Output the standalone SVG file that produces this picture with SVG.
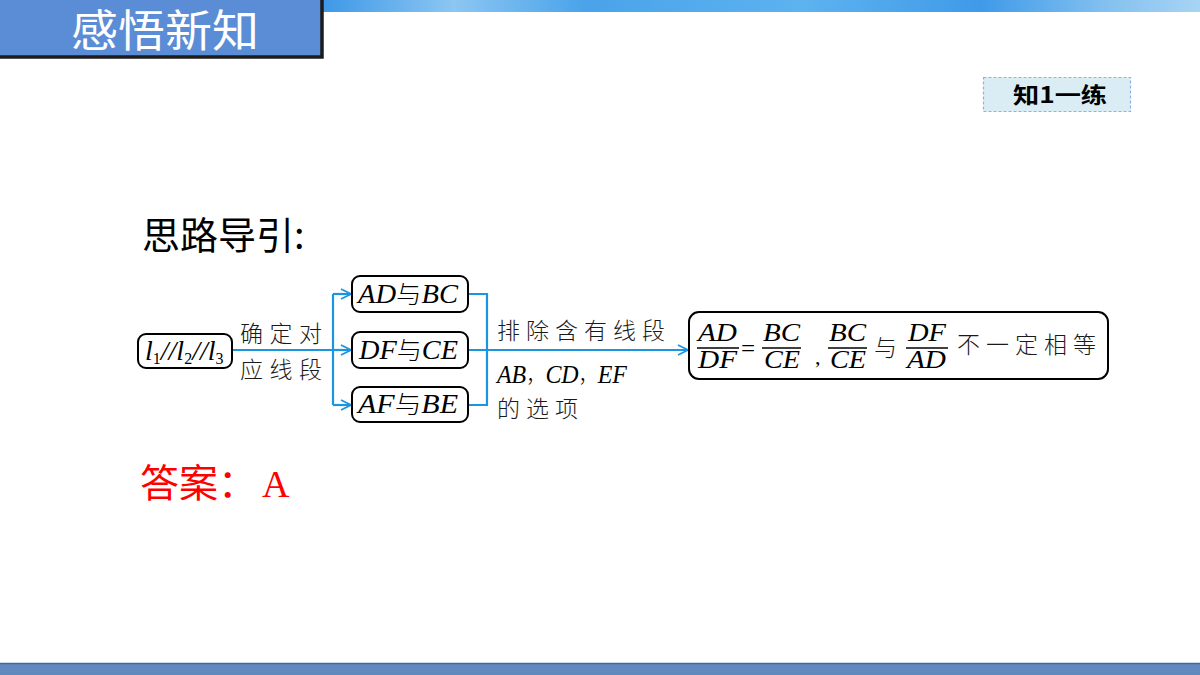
<svg xmlns="http://www.w3.org/2000/svg" width="1200" height="675" viewBox="0 0 1200 675">
<style>
.cjk{font-family:"Noto Sans CJK SC","Noto Sans",sans-serif;}
.lbl{font-family:"Noto Sans CJK SC",sans-serif;font-weight:300;font-size:23px;fill:#1a1a1a;}
.it{font-family:"Liberation Serif","Noto Sans CJK SC",serif;font-style:italic;fill:#000;}
.box{fill:#fff;stroke:#000;stroke-width:2;}
.conn{fill:none;stroke:#1b95e0;stroke-width:2.2;}
.frac{stroke:#000;stroke-width:1.6;}
</style>
<defs>
<linearGradient id="ban" x1="0" y1="0" x2="1" y2="0">
<stop offset="0" stop-color="#3d98e6"/>
<stop offset="0.15" stop-color="#8cc6f2"/>
<stop offset="0.3" stop-color="#4aa3ea"/>
<stop offset="0.55" stop-color="#5db2ef"/>
<stop offset="0.75" stop-color="#3f9ae8"/>
<stop offset="0.9" stop-color="#86c2f0"/>
<stop offset="1" stop-color="#a8d4f4"/>
</linearGradient>
<marker id="arr" viewBox="0 0 12 12" refX="11" refY="6" markerWidth="12" markerHeight="12" markerUnits="userSpaceOnUse" orient="auto">
<path d="M1,1 L11,6 L1,11" fill="none" stroke="#1b95e0" stroke-width="1.8"/>
</marker>
</defs>
<rect width="1200" height="675" fill="#fff"/>
<g id="banner">
<rect x="322" y="0" width="878" height="12" fill="url(#ban)"/>
</g>
<g id="title">
<rect x="-4" y="-4" width="326" height="61" fill="#5a8dd6" stroke="#1c1c1c" stroke-width="3.5"/>
<text x="71" y="47" class="cjk" font-size="44" fill="#fff" textLength="188" lengthAdjust="spacingAndGlyphs">感悟新知</text>
</g>
<g id="tag">
<rect x="983.5" y="77.5" width="147" height="34" fill="#daedf4" stroke="#8fb2e2" stroke-width="1.2" stroke-dasharray="3,2"/>
<text x="1013" y="103" class="cjk" font-size="22" font-weight="bold" fill="#000" textLength="94" lengthAdjust="spacingAndGlyphs">知1一练</text>
</g>
<g id="heading">
<text x="142" y="249" class="cjk" font-size="38" fill="#000">思路导引:</text>
</g>
<g id="connectors">
<path class="conn" d="M232,350 H333"/>
<path class="conn" d="M333,294 V405"/>
<path class="conn" d="M333,294 H351" marker-end="url(#arr)"/>
<path class="conn" d="M333,350 H351" marker-end="url(#arr)"/>
<path class="conn" d="M333,405 H351" marker-end="url(#arr)"/>
<path class="conn" d="M468,294 H487 V405 H468"/>
<path class="conn" d="M468,350 H688" marker-end="url(#arr)"/>
</g>
<g id="node-l">
<rect class="box" x="138" y="334" width="94" height="34" rx="8"/>
<text x="145" y="360" class="it" font-size="28">l<tspan font-size="16" font-style="normal" dy="4">1</tspan><tspan dy="-4">//l</tspan><tspan font-size="16" font-style="normal" dy="4">2</tspan><tspan dy="-4">//l</tspan><tspan font-size="16" font-style="normal" dy="4">3</tspan></text>
</g>
<g id="label-left">
<text x="240" y="342" class="lbl" textLength="82">确定对</text>
<text x="240" y="378" class="lbl" textLength="82">应线段</text>
</g>
<g id="node-adbc">
<rect class="box" x="352" y="276" width="116" height="36" rx="8"/>
<text x="358" y="303" class="it" font-size="27" textLength="100" lengthAdjust="spacingAndGlyphs">AD<tspan font-style="normal" font-family="Noto Sans CJK SC" font-weight="300" font-size="24">与</tspan>BC</text>
</g>
<g id="node-dfce">
<rect class="box" x="352" y="332" width="116" height="36" rx="8"/>
<text x="359" y="359" class="it" font-size="27" textLength="99" lengthAdjust="spacingAndGlyphs">DF<tspan font-style="normal" font-family="Noto Sans CJK SC" font-weight="300" font-size="24">与</tspan>CE</text>
</g>
<g id="node-afbe">
<rect class="box" x="352" y="387" width="116" height="35" rx="8"/>
<text x="358" y="413" class="it" font-size="27" textLength="100" lengthAdjust="spacingAndGlyphs">AF<tspan font-style="normal" font-family="Noto Sans CJK SC" font-weight="300" font-size="24">与</tspan>BE</text>
</g>
<g id="label-right">
<text x="497" y="339" class="lbl" textLength="168">排除含有线段</text>
<text x="497" y="383" class="it" font-size="25" textLength="130" lengthAdjust="spacingAndGlyphs">AB<tspan font-style="normal" font-family="Noto Sans CJK SC" font-weight="300" font-size="20">，</tspan>CD<tspan font-style="normal" font-family="Noto Sans CJK SC" font-weight="300" font-size="20">，</tspan>EF</text>
<text x="497" y="417" class="lbl" textLength="81">的选项</text>
</g>
<g id="node-result">
<rect class="box" x="689" y="312" width="419" height="67" rx="10"/>
<text x="698" y="341" class="it" font-size="25" textLength="39" lengthAdjust="spacingAndGlyphs">AD</text>
<line class="frac" x1="697" y1="348" x2="739" y2="348"/>
<text x="698" y="368" class="it" font-size="25" textLength="39" lengthAdjust="spacingAndGlyphs">DF</text>
<text x="741" y="357" font-family="Liberation Serif,serif" font-size="25" fill="#000">=</text>
<text x="763" y="341" class="it" font-size="25" textLength="37" lengthAdjust="spacingAndGlyphs">BC</text>
<line class="frac" x1="762" y1="348" x2="801" y2="348"/>
<text x="764" y="368" class="it" font-size="25" textLength="36" lengthAdjust="spacingAndGlyphs">CE</text>
<text x="815" y="364" font-family="Liberation Serif,serif" font-size="22" fill="#000">,</text>
<text x="829" y="341" class="it" font-size="25" textLength="37" lengthAdjust="spacingAndGlyphs">BC</text>
<line class="frac" x1="828" y1="348" x2="867" y2="348"/>
<text x="830" y="368" class="it" font-size="25" textLength="36" lengthAdjust="spacingAndGlyphs">CE</text>
<text x="874" y="356" class="lbl" font-size="22">与</text>
<text x="908" y="341" class="it" font-size="25" textLength="38" lengthAdjust="spacingAndGlyphs">DF</text>
<line class="frac" x1="906" y1="348" x2="948" y2="348"/>
<text x="907" y="368" class="it" font-size="25" textLength="39" lengthAdjust="spacingAndGlyphs">AD</text>
<text x="957" y="353" class="lbl" font-size="24" textLength="139">不一定相等</text>
</g>
<g id="answer">
<text x="140" y="497" class="cjk" font-size="39" fill="#ff0000">答案：</text>
<text x="262" y="497" font-family="Liberation Serif,serif" font-size="38" fill="#ff0000">A</text>
</g>
<g id="footer">
<rect x="0" y="663" width="1200" height="12" fill="#6289be"/>
<line x1="0" y1="663.5" x2="1200" y2="663.5" stroke="#3b69a6" stroke-width="1.5"/>
</g>
</svg>
